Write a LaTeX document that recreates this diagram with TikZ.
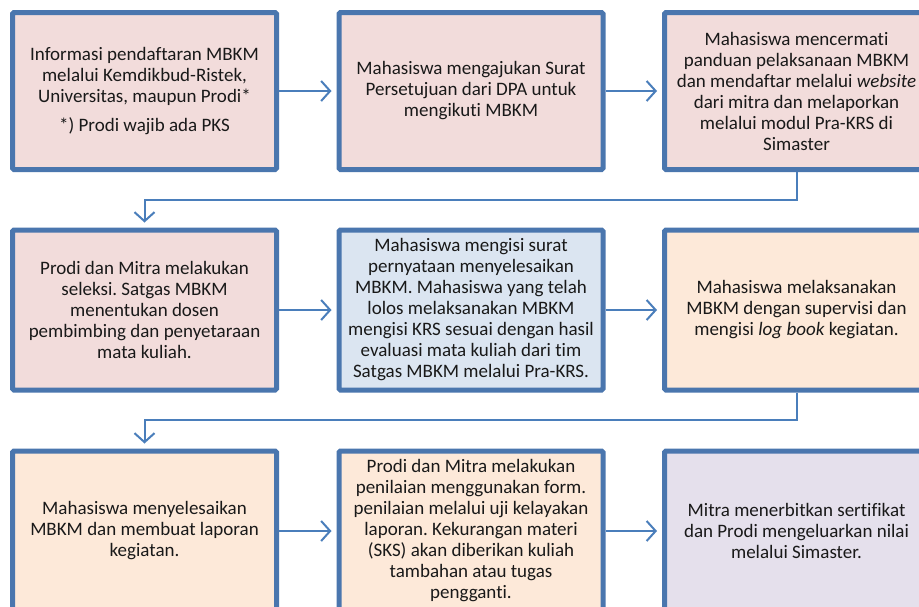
\documentclass[tikz,border=0pt]{standalone}
\usepackage{fontspec}
\setmainfont[Ligatures={NoCommon}]{Carlito}
\usetikzlibrary{arrows.meta}
\frenchspacing
\definecolor{bord}{HTML}{4A76AE}
\definecolor{conn}{HTML}{4A7EBB}
\definecolor{fpink}{HTML}{F2DCDB}
\definecolor{fblue}{HTML}{DBE5F1}
\definecolor{fpeach}{HTML}{FDE9D9}
\definecolor{flav}{HTML}{E5E0EC}
\tikzset{
  stepbox/.style={draw=bord, line width=5pt, rounded corners=1.5pt,
    minimum width=264pt, minimum height=157pt, align=center,
    font=\fontsize{19}{21}\selectfont, text=black!90, inner sep=0pt},
  arr/.style={draw=conn, line width=2pt,
    -{Straight Barb[length=9pt,width=20pt,line width=2pt]}, shorten >=5pt},
}
\begin{document}
\begin{tikzpicture}[x=1pt,y=-1pt]
\clip (0,0) rectangle (919,606);
\fill[white] (0,0) rectangle (919,606);
% row 1
\node[stepbox, fill=fpink] (b1) at (144.5,91) {Informasi pendaftaran MBKM\\melalui Kemdikbud-Ristek,\\Universitas, maupun Prodi*\\[8pt]*) Prodi wajib ada PKS};
\node[stepbox, fill=fpink] (b2) at (471,91) {Mahasiswa mengajukan Surat\\Persetujuan dari DPA untuk\\mengikuti MBKM};
\node[stepbox, fill=fpink] (b3) at (796.5,91) {Mahasiswa mencermati\\panduan pelaksanaan MBKM\\dan mendaftar melalui \textit{website}\\dari mitra dan melaporkan\\melalui modul Pra-KRS di\\Simaster};
% row 2
\node[stepbox, fill=fpink, minimum height=160pt] (b4) at (144.5,310) {Prodi dan Mitra melakukan\\seleksi. Satgas MBKM\\menentukan dosen\\pembimbing dan penyetaraan\\mata kuliah.};
\node[stepbox, fill=fblue, minimum height=160pt] (b5) at (471,310) {Mahasiswa mengisi surat\\pernyataan menyelesaikan\\MBKM. Mahasiswa yang telah\\lolos melaksanakan MBKM\\mengisi KRS sesuai dengan hasil\\evaluasi mata kuliah dari tim\\Satgas MBKM melalui Pra-KRS.};
\node[stepbox, fill=fpeach, minimum height=160pt] (b6) at (796.5,310) {Mahasiswa melaksanakan\\MBKM dengan supervisi dan\\mengisi \textit{log book} kegiatan.};
% row 3
\node[stepbox, fill=fpeach, minimum height=160pt] (b7) at (144.5,531) {Mahasiswa menyelesaikan\\MBKM dan membuat laporan\\kegiatan.};
\node[stepbox, fill=fpeach, minimum height=160pt] (b8) at (471,531) {Prodi dan Mitra melakukan\\penilaian menggunakan form.\\penilaian melalui uji kelayakan\\laporan. Kekurangan materi\\(SKS) akan diberikan kuliah\\tambahan atau tugas\\pengganti.};
\node[stepbox, fill=flav, minimum height=160pt] (b9) at (796.5,531) {Mitra menerbitkan sertifikat\\dan Prodi mengeluarkan nilai\\melalui Simaster.};
% connectors
\coordinate (k1) at (797,200);
\coordinate (k2) at (797,420);
\draw[arr] (b1.east) -- (b2.west);
\draw[arr] (b2.east) -- (b3.west);
\draw[arr] (b3.south) -- (b3.south |- k1) -| (b4.north);
\draw[arr] (b4.east) -- (b5.west);
\draw[arr] (b5.east) -- (b6.west);
\draw[arr] (b6.south) -- (b6.south |- k2) -| (b7.north);
\draw[arr] (b7.east) -- (b8.west);
\draw[arr] (b8.east) -- (b9.west);
\end{tikzpicture}
\end{document}
